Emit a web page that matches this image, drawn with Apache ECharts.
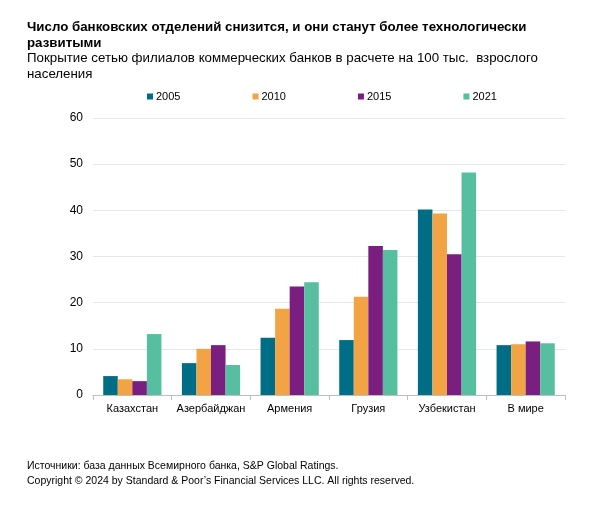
<!DOCTYPE html>
<html><head><meta charset="utf-8">
<script src="https://cdn.jsdelivr.net/npm/echarts@6/dist/echarts.min.js"></script>
<style>html,body{margin:0;padding:0;background:#fff}#c{width:600px;height:512px}</style>
</head><body><div id="c"></div>
<script>
const categories = ['Казахстан','Азербайджан','Армения','Грузия','Узбекистан','В мире'];
const seriesNames = ['2005','2010','2015','2021'];
const v2005 = [4.1, 6.9, 12.4, 11.9, 40.2, 10.8];
const v2010 = [3.4, 10.0, 18.7, 21.3, 39.3, 11.0];
const v2015 = [3.0, 10.8, 23.5, 32.3, 30.5, 11.6];
const v2021 = [13.2, 6.5, 24.4, 31.4, 48.2, 11.2];
const yTicks = [0, 10, 20, 30, 40, 50, 60];
const titleText = 'Число банковских отделений снизится, и они станут более технологически\nразвитыми';
const subtitleText = 'Покрытие сетью филиалов коммерческих банков в расчете на 100 тыс.  взрослого\nнаселения';
const noteText = 'Источники: база данных Всемирного банка, S&P Global Ratings.\nCopyright © 2024 by Standard & Poor\u2019s Financial Services LLC. All rights reserved.';
const colors = ['#006d87', '#f2a445', '#7a1e80', '#55bf9f'];
const values = [v2005, v2010, v2015, v2021];
const font = 'Liberation Sans';

const chart = echarts.init(document.getElementById('c'));
chart.setOption({
  animation: false,
  color: colors,
  legend: {
    data: seriesNames, top: 86, left: 142, itemGap: 72,
    itemWidth: 6, itemHeight: 6, icon: 'rect',
    textStyle: {fontFamily: font, fontSize: 11, color: '#000', padding: [0,0,0,-2]}
  },
  grid: {left: 93, right: 35, top: 118, bottom: 117},
  xAxis: {
    type: 'category', data: categories,
    axisLine: {lineStyle: {color: '#bfbfbf'}},
    axisTick: {show: true, lineStyle: {color: '#bfbfbf'}, length: 5},
    axisLabel: {fontFamily: font, fontSize: 11, color: '#000', margin: 8, interval: 0}
  },
  yAxis: {
    type: 'value', min: 0, max: 60, interval: 10,
    axisLabel: {fontFamily: font, fontSize: 12, color: '#000', margin: 10,
      formatter: v => yTicks.includes(v) ? String(v) : ''},
    splitLine: {lineStyle: {color: '#e6e6e6'}},
    axisLine: {show: false}, axisTick: {show: false}
  },
  graphic: [
    {type: 'text', left: 27, top: 20,
      style: {text: titleText, font: 'bold 13.3px "Liberation Sans", Arial, sans-serif', fill: '#000', lineHeight: 15.5}},
    {type: 'text', left: 27, top: 51,
      style: {text: subtitleText, font: '13.3px "Liberation Sans", Arial, sans-serif', fill: '#000', lineHeight: 15.5}},
    {type: 'text', left: 27, top: 458,
      style: {text: noteText, font: '10.5px "Liberation Sans", Arial, sans-serif', fill: '#000', lineHeight: 15.7}}
  ],
  series: seriesNames.map((n, i) => ({
    name: n, type: 'bar', data: values[i],
    barGap: '0%', barCategoryGap: '26%'
  }))
});
</script></body></html>
